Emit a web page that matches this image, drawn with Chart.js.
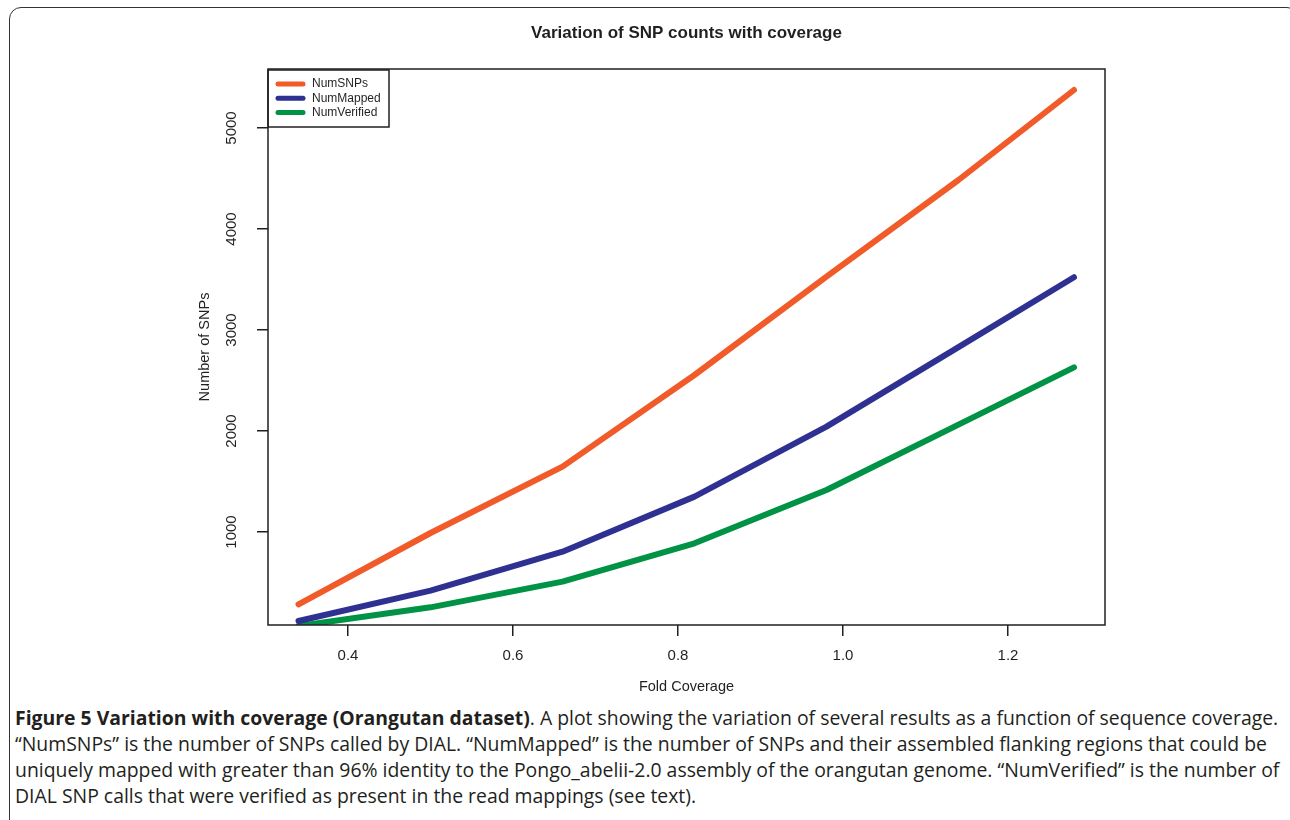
<!DOCTYPE html>
<html>
<head>
<meta charset="utf-8">
<title>Variation of SNP counts with coverage</title>
<script src="https://cdn.jsdelivr.net/npm/chart.js@4.4.1/dist/chart.umd.min.js"></script>
<style>
   html, body { margin: 0; padding: 0; background: #fff; width: 1290px; height: 820px; overflow: hidden; }
   #frame {
      position: absolute; left: 9px; top: 7px; width: 1290px; height: 830px;
      border: 1.5px solid #333; border-radius: 12px; box-sizing: border-box;
   }
   #chartBox { position: absolute; left: 0; top: 0; width: 1290px; height: 700px; }
   #caption {
      position: absolute; left: 15px; top: 705px; width: 1275px;
      font-family: "Open Sans", sans-serif; font-size: 19.4px; line-height: 26px;
      color: #231f20; white-space: nowrap;
   }
   #caption b { font-weight: 700; }
</style>
</head>
<body>
<div id="frame"></div>
<div id="chartBox"><canvas id="snpChart" width="1290" height="700"></canvas></div>
<div id="caption">
<b>Figure 5 Variation with coverage (Orangutan dataset)</b>. A plot showing the variation of several results as a function of sequence coverage.<br>
“NumSNPs” is the number of SNPs called by DIAL. “NumMapped” is the number of SNPs and their assembled flanking regions that could be<br>
uniquely mapped with greater than 96% identity to the Pongo_abelii-2.0 assembly of the orangutan genome. “NumVerified” is the number of<br>
DIAL SNP calls that were verified as present in the read mappings (see text).
</div>

<script>
// Data
const coverage = [0.34, 0.50, 0.66, 0.82, 0.98, 1.14, 1.28];
const numSNPs = [284, 990, 1647, 2554, 3528, 4485, 5376];
const numMapped = [119, 419, 805, 1350, 2043, 2830, 3522];
const numVerified = [70, 254, 508, 888, 1416, 2063, 2630];

const seriesNames = ["NumSNPs", "NumMapped", "NumVerified"];
const seriesColors = ["#f15a29", "#2e3192", "#009245"];

const xTicks = [0.4, 0.6, 0.8, 1.0, 1.2];
const yTicks = [1000, 2000, 3000, 4000, 5000];

const chartTitle = "Variation of SNP counts with coverage";
const xTitle = "Fold Coverage";
const yTitle = "Number of SNPs";

const fontFamily = '"Liberation Sans", Arial, sans-serif';
const inkColor = "#231f20";

function toPoints(ys) {
   return coverage.map((x, i) => ({ x: x, y: ys[i] }));
}

const allSeries = [numSNPs, numMapped, numVerified];

// Box, rotated y labels, titles and legend in R style
const rStyle = {
   id: 'rStyle',
   afterDraw(chart) {
      const ctx = chart.ctx;
      const area = chart.chartArea;
      const yScale = chart.scales.y;
      ctx.save();

      // plot box
      ctx.strokeStyle = "#231f20";
      ctx.lineWidth = 1.5;
      ctx.strokeRect(area.left, area.top, area.right - area.left, area.bottom - area.top);

      // y tick labels, parallel to axis
      ctx.fillStyle = inkColor;
      ctx.font = '15px ' + fontFamily;
      ctx.textAlign = "center";
      ctx.textBaseline = "middle";
      yTicks.forEach(v => {
         const py = yScale.getPixelForValue(v);
         ctx.save();
         ctx.translate(area.left - 36, py);
         ctx.rotate(-Math.PI / 2);
         ctx.fillText(String(v), 0, 0);
         ctx.restore();
      });

      // y title
      ctx.save();
      ctx.font = '14.5px ' + fontFamily;
      ctx.translate(area.left - 63, (area.top + area.bottom) / 2);
      ctx.rotate(-Math.PI / 2);
      ctx.fillText(yTitle, 0, 0);
      ctx.restore();

      // main title
      ctx.font = 'bold 17px ' + fontFamily;
      ctx.fillText(chartTitle, (area.left + area.right) / 2, 33);

      // legend
      const lx = area.left, ly = area.top;
      ctx.lineWidth = 1.5;
      ctx.strokeRect(lx, ly + 1, 121, 57);
      ctx.font = '12px ' + fontFamily;
      ctx.textAlign = "left";
      seriesNames.forEach((name, i) => {
         const yy = ly + 15 + i * 14.2;
         ctx.strokeStyle = seriesColors[i];
         ctx.lineWidth = 5;
         ctx.lineCap = "round";
         ctx.beginPath();
         ctx.moveTo(lx + 10, yy);
         ctx.lineTo(lx + 35, yy);
         ctx.stroke();
         ctx.fillStyle = inkColor;
         ctx.fillText(name, lx + 44, yy);
      });
      ctx.restore();
   }
};

new Chart(document.getElementById("snpChart"), {
   type: "line",
   data: {
      datasets: allSeries.map((ys, i) => ({
         label: seriesNames[i],
         data: toPoints(ys),
         borderColor: seriesColors[i],
         backgroundColor: seriesColors[i],
         borderWidth: 6,
         borderCapStyle: "round",
         borderJoinStyle: "round",
         pointRadius: 0,
         tension: 0,
         fill: false,
         clip: 0
      }))
   },
   options: {
      responsive: false,
      animation: false,
      devicePixelRatio: 1,
      layout: { padding: { top: 69, right: 185, left: 0, bottom: 0 } },
      plugins: {
         legend: { display: false },
         title: { display: false },
         tooltip: { enabled: false }
      },
      scales: {
         x: {
            type: "linear",
            min: 0.3030,
            max: 1.3176,
            afterBuildTicks: axis => { axis.ticks = xTicks.map(v => ({ value: v })); },
            afterFit: axis => { axis.height = 75; },
            grid: { display: true, drawOnChartArea: false, drawTicks: true, tickLength: 11, color: inkColor, lineWidth: 1.5 },
            border: { display: false },
            ticks: {
               color: inkColor,
               font: { family: fontFamily, size: 15 },
               padding: 11,
               maxRotation: 0,
               callback: v => Number(v).toFixed(1)
            },
            title: {
               display: true,
               text: xTitle,
               color: inkColor,
               font: { family: fontFamily, size: 14.5 },
               padding: { top: 8 }
            }
         },
         y: {
            type: "linear",
            min: 79,
            max: 5584,
            afterBuildTicks: axis => { axis.ticks = yTicks.map(v => ({ value: v })); },
            afterFit: axis => { axis.width = 268; },
            grid: { display: true, drawOnChartArea: false, drawTicks: true, tickLength: 11, color: inkColor, lineWidth: 1.5 },
            border: { display: false },
            ticks: { display: false }
         }
      }
   },
   plugins: [rStyle]
});
</script>
</body>
</html>
